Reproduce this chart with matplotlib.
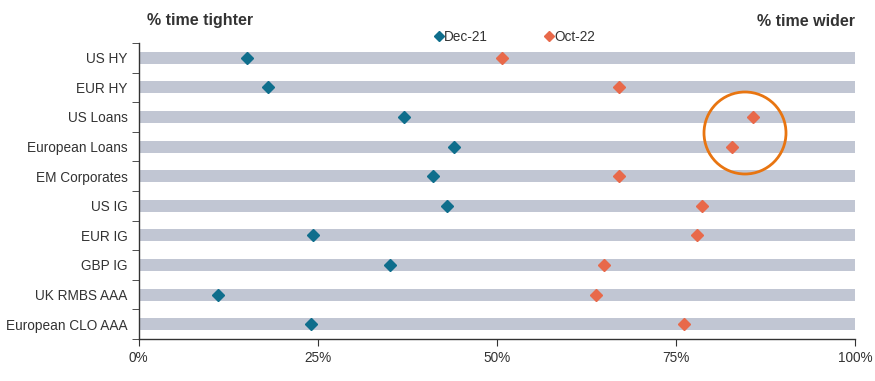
import matplotlib.pyplot as plt
from matplotlib.lines import Line2D
from matplotlib.patches import Ellipse

plt.rcParams["font.family"] = ["Liberation Sans", "DejaVu Sans"]

categories = ["US HY", "EUR HY", "US Loans", "European Loans", "EM Corporates",
              "US IG", "EUR IG", "GBP IG", "UK RMBS AAA", "European CLO AAA"]
dec21 = [15.2, 18.1, 37.0, 44.0, 41.1, 43.0, 24.4, 35.1, 11.1, 24.1]
oct22 = [50.8, 67.1, 85.8, 82.9, 67.0, 78.7, 77.9, 65.0, 63.9, 76.2]
xticks = [0, 25, 50, 75, 100]
xticklabels = ["0%", "25%", "50%", "75%", "100%"]

TEAL = "#0F6E8C"
ORANGE = "#E8694A"
BAR = "#C1C6D3"
TXT = "#333333"

fig = plt.figure(figsize=(8.75, 3.81), dpi=100)
ax = fig.add_axes([138.5 / 875, 1 - 339 / 381, (855 - 138.5) / 875, (339 - 43) / 381])

ys = list(range(len(categories)))
ax.barh(ys, [100] * len(categories), height=0.41, color=BAR, zorder=1)
ax.plot(dec21, ys, ls="none", marker="D", ms=6.3, color=TEAL, zorder=3)
ax.plot(oct22, ys, ls="none", marker="D", ms=6.3, color=ORANGE, zorder=3)

ax.set_xlim(0, 100)
ax.set_ylim(len(categories) - 0.5, -0.5)
ax.set_xticks(xticks)
ax.set_xticklabels(xticklabels)
ax.set_yticks(ys)
ax.set_yticklabels(categories)
ax.tick_params(axis="y", length=0, pad=8, labelsize=9.8, labelcolor=TXT)
ax.tick_params(axis="x", length=5, direction="out", pad=4, labelsize=9.8,
               labelcolor=TXT, color=TXT)
# category boundary ticks on the y axis
ax.set_yticks([i - 0.5 for i in range(len(categories) + 1)], minor=True)
ax.tick_params(axis="y", which="minor", length=5, direction="out", color=TXT)
for s in ["top", "right"]:
    ax.spines[s].set_visible(False)
for s in ["left", "bottom"]:
    ax.spines[s].set_color(TXT)
    ax.spines[s].set_linewidth(1.0)

fig.text(147 / 875, 1 - 21 / 381, "% time tighter", fontsize=11.5, fontweight="bold",
         color=TXT, ha="left", va="center")
fig.text(855 / 875, 1 - 21 / 381, "% time wider", fontsize=11.5, fontweight="bold",
         color=TXT, ha="right", va="center")

handles = [Line2D([], [], ls="none", marker="D", ms=5, color=TEAL),
           Line2D([], [], ls="none", marker="D", ms=5, color=ORANGE)]
fig.legend(handles, ["Dec-21", "Oct-22"], loc="center", bbox_to_anchor=(515 / 875, 1 - 37 / 381),
           ncol=2, frameon=False, fontsize=9.8, handlelength=0.6, handletextpad=0.1,
           columnspacing=4.2, labelcolor=TXT)

fig.add_artist(Ellipse((745 / 875, 1 - 133 / 381), 82 / 875, 82 / 381,
                       transform=fig.transFigure, fill=False, edgecolor="#E87511", lw=2))

fig.savefig("out.png", dpi=100)
